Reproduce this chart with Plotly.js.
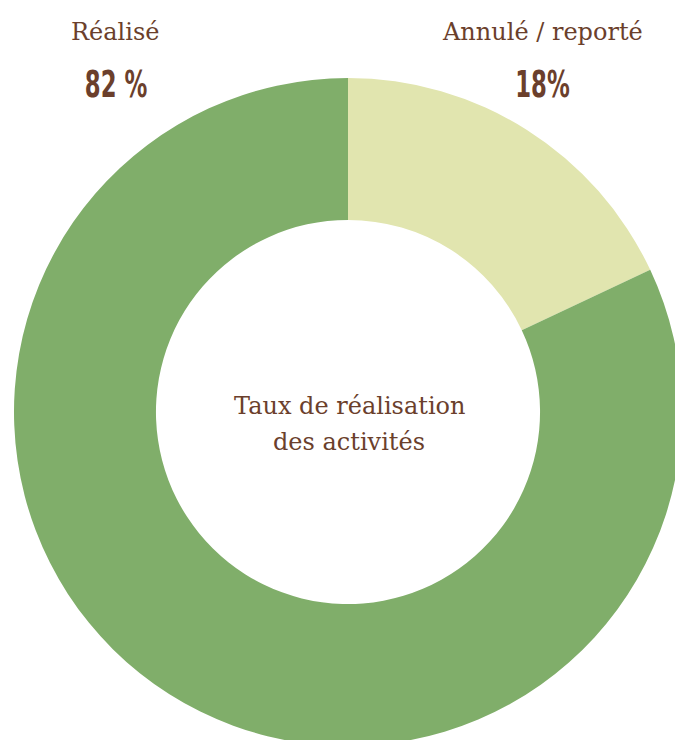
<!DOCTYPE html>
<html>
<head>
<meta charset="utf-8">
<script src="https://cdn.plot.ly/plotly-3.0.1.min.js"></script>
<style>
  html, body { margin: 0; padding: 0; overflow: hidden; background: #ffffff; }
  #chart { width: 700px; height: 760px; }
</style>
</head>
<body>
<div id="chart"></div>
<script>
// Data
const categories = ["Annulé / reporté", "Réalisé"];
const values = [18, 82];
const valueLabels = ["18%", "82 %"];
const centerLines = ["Taux de réalisation", "des activités"];

// Geometry helpers (page pixels -> paper coords)
const W = 700, H = 760;
const M = { l: 14, r: 18, t: 78, b: 14 };
const pw = W - M.l - M.r, ph = H - M.t - M.b;
const px = x => (x - M.l) / pw;
const py = y => (H - M.b - y) / ph;

const brown = "#6b3f2c";
const serif = "DejaVu Serif, Liberation Serif, serif";
const narrow = "DejaVu Sans, Liberation Sans, sans-serif";

const trace = {
  type: "pie",
  labels: categories,
  values: values,
  sort: false,
  direction: "clockwise",
  rotation: 0,
  hole: 0.575,
  textinfo: "none",
  hoverinfo: "none",
  marker: { colors: ["#e1e5af", "#80ae6a"], line: { width: 0 } },
  showlegend: false
};

function ann(text, x, y, font) {
  return { text: text, x: px(x), y: py(y), xref: "paper", yref: "paper",
           xanchor: "center", yanchor: "middle", showarrow: false, font: font };
}

const labelFont = { family: serif, size: 24, color: brown };
const numFont = { family: narrow, size: 38, color: brown, weight: 700 };
const centerFont = { family: serif, size: 24, color: brown };

const layout = {
  width: W, height: H,
  margin: M,
  paper_bgcolor: "#ffffff",
  plot_bgcolor: "#ffffff",
  annotations: [
    ann(categories[1], 115, 32, labelFont),
    ann(valueLabels[1], 116, 84, numFont),
    ann(categories[0], 542, 32, labelFont),
    ann(valueLabels[0], 542, 84, numFont),
    ann(centerLines[0], 349, 406, centerFont),
    ann(centerLines[1], 349, 442, centerFont)
  ]
};

Plotly.newPlot("chart", [trace], layout, { displayModeBar: false, staticPlot: true }).then(gd => {
  // condense the big percentage numbers horizontally (narrow display face look)
  const texts = gd.querySelectorAll("g.annotation text.annotation-text");
  [1, 3].forEach(i => {
    const t = texts[i];
    if (!t) return;
    const bb = t.getBBox();
    const cx = bb.x + bb.width / 2;
    const prev = t.getAttribute("transform") || "";
    t.setAttribute("transform", prev + ` translate(${cx},0) scale(0.6,1) translate(${-cx},0)`);
  });
});
</script>
</body>
</html>
